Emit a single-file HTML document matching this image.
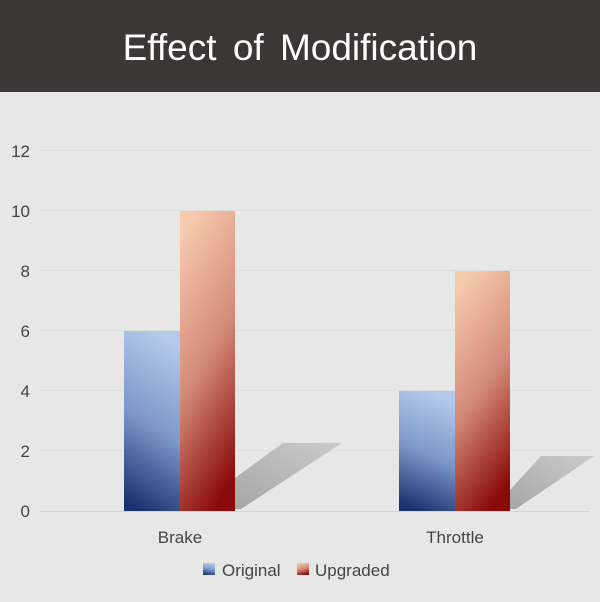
<!DOCTYPE html>
<html><head><style>
body{margin:0;width:600px;height:597px;overflow:hidden;background:#e7e7e7;font-family:"Liberation Sans","DejaVu Sans",sans-serif}
</style></head><body>
<svg width="600" height="597" xmlns="http://www.w3.org/2000/svg">
<defs>
<linearGradient id="bl" x1="0.3" y1="1" x2="0.5" y2="0"><stop offset="0" stop-color="#1a3370"/><stop offset="0.5" stop-color="#7d98c9"/><stop offset="1" stop-color="#b3c8ea"/></linearGradient>
<linearGradient id="rd" x1="0.6" y1="1" x2="0.3" y2="0"><stop offset="0" stop-color="#8a0a0a"/><stop offset="0.5" stop-color="#d48a78"/><stop offset="1" stop-color="#f5c9ac"/></linearGradient>
<linearGradient id="sh" x1="0" y1="1" x2="1" y2="0"><stop offset="0" stop-color="#a6a6a6"/><stop offset="1" stop-color="#cbcbcb"/></linearGradient>
</defs>
<rect width="600" height="597" fill="#e7e7e7"/>
<rect width="600" height="92" fill="#3b3736"/>
<text x="300" y="60" text-anchor="middle" font-size="37" fill="#fff" word-spacing="6">Effect of Modification</text>
<g stroke="#dedede" stroke-width="1">
<line x1="40" x2="590" y1="150.5" y2="150.5"/><line x1="40" x2="590" y1="210.5" y2="210.5"/><line x1="40" x2="590" y1="270.5" y2="270.5"/><line x1="40" x2="590" y1="330.5" y2="330.5"/><line x1="40" x2="590" y1="390.5" y2="390.5"/><line x1="40" x2="590" y1="450.5" y2="450.5"/>
</g>
<line x1="40" x2="590" y1="511.5" y2="511.5" stroke="#d4d4d4"/>
<g font-size="17" fill="#444" text-anchor="end">
<text x="30" y="157">12</text><text x="30" y="217">10</text><text x="30" y="277">8</text><text x="30" y="337">6</text><text x="30" y="397">4</text><text x="30" y="457">2</text><text x="30" y="517">0</text>
</g>
<polygon points="235,478 283,443 342,443 241,509 235,509" fill="url(#sh)"/>
<polygon points="510,490 541,456 594,456 516,509 510,509" fill="url(#sh)"/>
<rect x="124" y="331" width="56" height="180" fill="url(#bl)"/>
<rect x="180" y="211" width="55" height="300" fill="url(#rd)"/>
<rect x="399" y="391" width="56" height="120" fill="url(#bl)"/>
<rect x="455" y="271" width="55" height="240" fill="url(#rd)"/>
<g font-size="17" fill="#444" text-anchor="middle">
<text x="180" y="543">Brake</text><text x="455" y="543">Throttle</text>
</g>
<rect x="203" y="563" width="12" height="12" fill="url(#bl)"/>
<text x="222" y="576" font-size="17" fill="#444">Original</text>
<rect x="297" y="563" width="12" height="12" fill="url(#rd)"/>
<text x="315" y="576" font-size="17" fill="#444">Upgraded</text>
</svg>
</body></html>
